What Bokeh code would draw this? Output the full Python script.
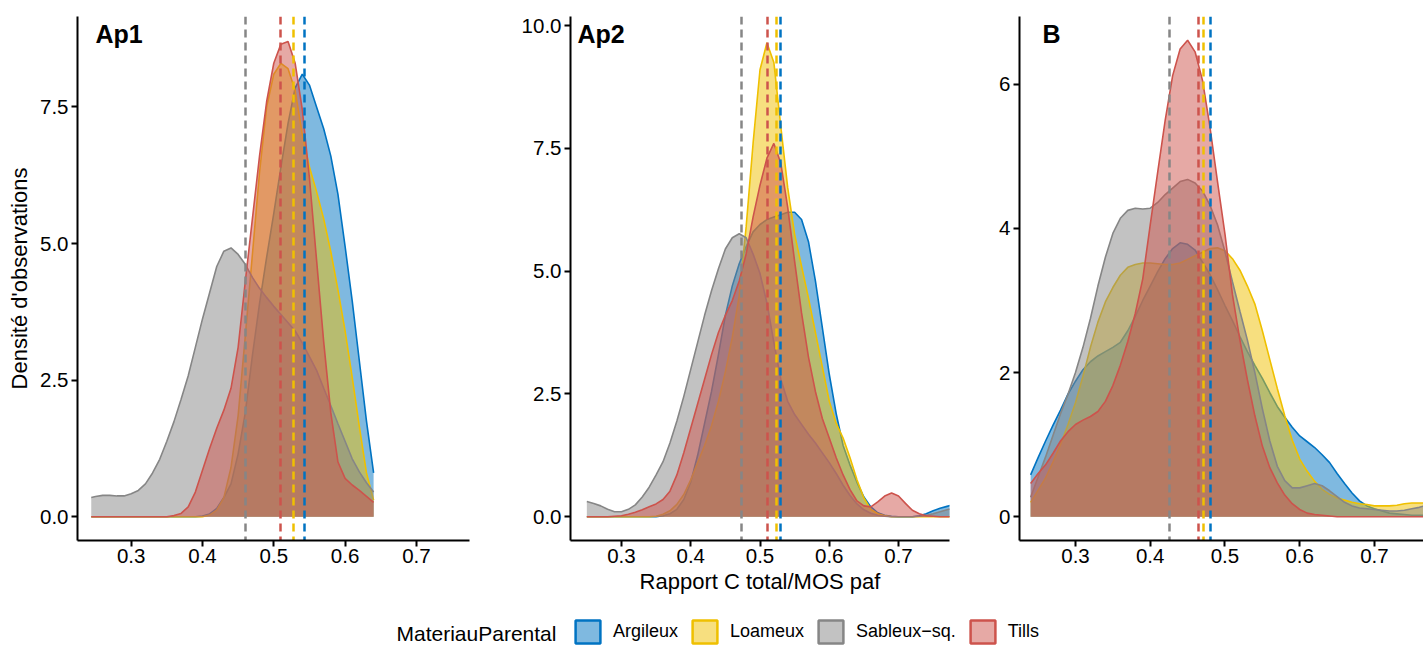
from bokeh.plotting import figure
from bokeh.layouts import row, column
from bokeh.models import (Range1d, FixedTicker, NumeralTickFormatter, Label,
                          Legend, LegendItem)
from bokeh.embed import file_html
from bokeh.resources import INLINE

# ---------------- data ----------------
GROUPS = ["Argileux", "Loameux", "Sableux\u2212sq.", "Tills"]
LEGEND_TITLE = "MateriauParental"
COLORS = ["#0073C2", "#EFC000", "#868686", "#CD534C"]
XTICKS = [0.3, 0.4, 0.5, 0.6, 0.7]

# Panel Ap1
x_ap1 = [0.244, 0.25, 0.26, 0.27, 0.28, 0.29, 0.30, 0.31, 0.32, 0.33, 0.34,
         0.35, 0.36, 0.37, 0.38, 0.39, 0.40, 0.41, 0.42, 0.43, 0.44, 0.45,
         0.46, 0.47, 0.48, 0.49, 0.50, 0.51, 0.52, 0.53, 0.54, 0.55, 0.56,
         0.57, 0.58, 0.59, 0.60, 0.61, 0.62, 0.63, 0.64]
ap1_argileux = [0, 0, 0, 0, 0, 0, 0, 0, 0, 0, 0, 0, 0, 0, 0, 0, 0.01,
                0.05, 0.15, 0.35, 0.6, 1.15, 1.9, 2.95, 3.9, 4.75, 5.55, 6.4,
                7.2, 7.85, 8.1, 7.9, 7.5, 7.1, 6.6, 5.9, 4.95, 3.95, 2.85,
                1.75, 0.8]
ap1_loameux = [0, 0, 0, 0, 0, 0, 0, 0, 0, 0, 0, 0, 0, 0, 0, 0, 0,
               0.03, 0.12, 0.35, 0.9, 1.85, 3.3, 4.8, 6.3, 7.5, 8.1, 8.3,
               8.2, 7.8, 7.0, 6.4, 5.95, 5.45, 4.85, 4.15, 3.4, 2.55, 1.65,
               0.8, 0.3]
ap1_sableux = [0.35, 0.37, 0.39, 0.39, 0.38, 0.38, 0.42, 0.48, 0.60, 0.80,
               1.05, 1.38, 1.74, 2.15, 2.58, 3.10, 3.62, 4.10, 4.58, 4.86,
               4.92, 4.80, 4.62, 4.38, 4.18, 4.01, 3.85, 3.70, 3.55, 3.40,
               3.18, 2.93, 2.68, 2.35, 2.03, 1.70, 1.38, 1.06, 0.82, 0.62,
               0.45]
ap1_tills = [0, 0, 0, 0, 0, 0, 0, 0, 0, 0, 0, 0,
             0.02, 0.06, 0.18, 0.45, 0.85, 1.25, 1.62, 1.95, 2.35, 3.1, 4.3,
             5.45, 6.6, 7.6, 8.3, 8.65, 8.70, 8.3, 7.45, 6.2, 4.7, 3.2, 1.9,
             1.0, 0.7, 0.58, 0.48, 0.37, 0.26]
ap1_means = [0.5425, 0.527, 0.46, 0.509]

# Panel Ap2
x_ap2 = [0.25, 0.26, 0.27, 0.28, 0.29, 0.30, 0.31, 0.32, 0.33, 0.34, 0.35,
         0.36, 0.37, 0.38, 0.39, 0.40, 0.41, 0.42, 0.43, 0.44, 0.45, 0.46,
         0.47, 0.48, 0.49, 0.50, 0.51, 0.52, 0.53, 0.54, 0.55, 0.56, 0.57,
         0.58, 0.59, 0.60, 0.61, 0.62, 0.63, 0.64, 0.65, 0.66, 0.67, 0.68,
         0.69, 0.70, 0.71, 0.72, 0.73, 0.74, 0.75, 0.76, 0.77, 0.775]
ap2_argileux = [0, 0, 0, 0, 0, 0, 0, 0, 0, 0, 0,
                0.02, 0.06, 0.15, 0.35, 0.7, 1.25, 1.9, 2.55, 3.3, 4.1, 4.7,
                5.15, 5.5, 5.8, 5.95, 6.05, 6.1, 6.15, 6.2, 6.2, 6.05, 5.6,
                4.8, 3.85, 2.9, 2.1, 1.45, 1.05, 0.7, 0.4, 0.2, 0.08, 0.03,
                0.01, 0, 0, 0, 0.02, 0.06, 0.12, 0.17, 0.21, 0.23]
ap2_loameux = [0, 0, 0, 0, 0, 0, 0, 0, 0, 0,
               0.01, 0.05, 0.12, 0.25, 0.45, 0.75, 1.1, 1.45, 1.85, 2.35,
               2.95, 3.65, 4.5, 5.9, 7.6, 9.1, 9.65, 9.25, 7.95, 6.7, 5.75,
               5.1, 4.45, 3.75, 3.05, 2.35, 1.9, 1.6, 1.2, 0.75, 0.38, 0.15,
               0.06, 0.02, 0, 0, 0, 0, 0, 0, 0, 0, 0, 0]
ap2_sableux = [0.31, 0.27, 0.22, 0.15, 0.10, 0.10, 0.15, 0.24, 0.40, 0.60,
               0.85, 1.12, 1.50, 1.95, 2.45, 3.0, 3.55, 4.1, 4.6, 5.05, 5.45,
               5.68, 5.76, 5.68, 5.35, 4.95, 4.35, 3.55, 2.8, 2.35, 2.08,
               1.88, 1.68, 1.5, 1.3, 1.1, 0.88, 0.64, 0.43, 0.26, 0.14, 0.07,
               0.03, 0.01, 0, 0, 0, 0, 0.01, 0.03, 0.06, 0.10, 0.14, 0.16]
ap2_tills = [0, 0, 0, 0, 0.01, 0.02, 0.05, 0.09, 0.14, 0.2, 0.26, 0.35,
             0.52, 0.85, 1.3, 1.8, 2.3, 2.8, 3.3, 3.75, 4.1, 4.4, 4.8, 5.35,
             6.1, 6.75, 7.3, 7.6, 7.2, 6.3, 5.2, 4.15, 3.25, 2.55, 2.0, 1.6,
             1.2, 0.85, 0.55, 0.32, 0.22, 0.2, 0.3, 0.42, 0.48, 0.42, 0.27,
             0.13, 0.06, 0.02, 0.01, 0, 0, 0]
ap2_means = [0.53, 0.524, 0.4736, 0.511]

# Panel B
x_b = [0.24, 0.25, 0.26, 0.27, 0.28, 0.29, 0.30, 0.31, 0.32, 0.33, 0.34,
       0.35, 0.36, 0.37, 0.38, 0.39, 0.40, 0.41, 0.42, 0.43, 0.44, 0.45,
       0.46, 0.47, 0.48, 0.49, 0.50, 0.51, 0.52, 0.53, 0.54, 0.55, 0.56,
       0.57, 0.58, 0.59, 0.60, 0.61, 0.62, 0.63, 0.64, 0.65, 0.66, 0.67,
       0.68, 0.69, 0.70, 0.71, 0.72, 0.73, 0.74, 0.75, 0.76, 0.77]
b_argileux = [0.58, 0.82, 1.05, 1.27, 1.48, 1.7, 1.88, 2.04, 2.15, 2.23,
              2.29, 2.35, 2.42, 2.58, 2.78, 3.0, 3.2, 3.4, 3.58, 3.72, 3.8,
              3.78, 3.7, 3.53, 3.36, 3.15, 2.93, 2.72, 2.5, 2.29, 2.1, 1.92,
              1.72, 1.53, 1.38, 1.24, 1.12, 1.04, 0.96, 0.86, 0.75, 0.6,
              0.46, 0.33, 0.22, 0.15, 0.11, 0.08, 0.05, 0.04, 0.03, 0.02,
              0.02, 0.02]
b_loameux = [0.2, 0.37, 0.54, 0.76, 1.0, 1.28, 1.58, 1.95, 2.35, 2.7, 2.98,
             3.18, 3.35, 3.46, 3.5, 3.52, 3.52, 3.51, 3.5, 3.5, 3.52, 3.57,
             3.62, 3.67, 3.72, 3.73, 3.69, 3.58, 3.42, 3.2, 2.95, 2.58, 2.18,
             1.78, 1.4, 1.06, 0.8, 0.63, 0.49, 0.38, 0.31, 0.26, 0.23, 0.2,
             0.18, 0.17, 0.15, 0.15, 0.15, 0.16, 0.18, 0.19, 0.19, 0.19]
b_sableux = [0.27, 0.55, 0.83, 1.13, 1.43, 1.7, 2.0, 2.35, 2.75, 3.2, 3.6,
             3.93, 4.14, 4.25, 4.28, 4.27, 4.28, 4.36, 4.47, 4.56, 4.65,
             4.68, 4.63, 4.52, 4.32, 4.05, 3.68, 3.26, 2.85, 2.45, 2.0, 1.5,
             1.05, 0.7, 0.5, 0.4, 0.4, 0.43, 0.46, 0.43, 0.36, 0.28, 0.2,
             0.15, 0.12, 0.11, 0.1, 0.09, 0.08, 0.08, 0.09, 0.11, 0.13, 0.16]
b_tills = [0.46, 0.6, 0.72, 0.88, 1.05, 1.18, 1.28, 1.34, 1.39, 1.46, 1.6,
           1.82, 2.1, 2.43, 2.82, 3.3, 4.05, 4.78, 5.5, 6.12, 6.49, 6.61,
           6.45, 6.05, 5.4, 4.65, 3.92, 3.08, 2.45, 1.9, 1.4, 0.98, 0.68,
           0.47, 0.3, 0.18, 0.1, 0.05, 0.03, 0.02, 0.01, 0, 0, 0, 0, 0, 0,
           0, 0, 0, 0, 0, 0, 0]
b_means = [0.4813, 0.4719, 0.4263, 0.4643]

FONT = "Liberation Sans"
FRAME_TOP = 16
FRAME_H = 524
FIG_H = 606
W_TOTAL = 1423
LEG_H = 40


def style_axis(ax):
    ax.axis_line_width = 2
    ax.axis_line_color = "black"
    ax.major_tick_line_width = 2
    ax.major_tick_line_color = "black"
    ax.major_tick_out = 6
    ax.major_tick_in = 0
    ax.minor_tick_line_color = None
    ax.major_label_text_font = FONT
    ax.major_label_text_font_size = "20.5px"
    ax.major_label_text_color = "black"
    ax.axis_label_text_font = FONT
    ax.axis_label_text_font_size = "22px"
    ax.axis_label_text_font_style = "normal"
    ax.axis_label_text_color = "black"


def make_panel(xv, series, means, xr, yr, yticks, yfmt, width, left, right,
               tag, tag_dx, ylabel=None, xlabel=None):
    p = figure(width=width, height=FIG_H, x_range=Range1d(*xr),
               y_range=Range1d(*yr), output_backend="svg",
               toolbar_location=None, min_border_left=left,
               min_border_right=right, min_border_top=FRAME_TOP,
               min_border_bottom=FIG_H - FRAME_TOP - FRAME_H)
    p.grid.visible = False
    p.outline_line_color = None
    for ys, c in zip(series, COLORS):
        p.varea(x=xv, y1=0, y2=ys, fill_color=c, fill_alpha=0.5)
        p.line(x=xv, y=ys, line_color=c, line_width=1.6)
    for m, c in zip(means, COLORS):
        p.vspan(x=[m], line_color=c, line_width=2.5, line_dash="8 5")
    p.xaxis.ticker = FixedTicker(ticks=XTICKS)
    p.xaxis.formatter = NumeralTickFormatter(format="0.0")
    p.yaxis.ticker = FixedTicker(ticks=yticks)
    p.yaxis.formatter = NumeralTickFormatter(format=yfmt)
    for ax in list(p.xaxis) + list(p.yaxis):
        style_axis(ax)
    p.yaxis.major_label_standoff = 3
    p.xaxis.major_label_standoff = 2
    if ylabel:
        p.yaxis.axis_label = ylabel
        p.yaxis.axis_label_standoff = 5
    if xlabel:
        p.xaxis.axis_label = xlabel
        p.xaxis.axis_label_standoff = 3
    frame_w = width - left - right
    tx = xr[0] + tag_dx / frame_w * (xr[1] - xr[0])
    ty = yr[1] - 17.0 / FRAME_H * (yr[1] - yr[0])
    p.add_layout(Label(x=tx, y=ty, text=tag, text_font=FONT,
                       text_font_style="bold", text_font_size="25px",
                       text_baseline="alphabetic", text_color="black"))
    return p


p1 = make_panel(x_ap1, [ap1_argileux, ap1_loameux, ap1_sableux, ap1_tills],
                ap1_means, (0.2247, 0.7745), (-0.436, 9.156),
                [0, 2.5, 5, 7.5], "0.0", 500, 77, 31, "Ap1", 18,
                ylabel="Densit\u00e9 d'observations")
p2 = make_panel(x_ap2, [ap2_argileux, ap2_loameux, ap2_sableux, ap2_tills],
                ap2_means, (0.2264, 0.7736), (-0.485, 10.185),
                [0, 2.5, 5, 7.5, 10], "0.0", 469, 70, 20, "Ap2", 7,
                xlabel="Rapport C total/MOS paf")
p3 = make_panel(x_b, [b_argileux, b_loameux, b_sableux, b_tills],
                b_means, (0.2251, 0.7656), (-0.33, 6.94),
                [0, 2, 4, 6], "0", 454, 50, 0, "B", 23)

# ---------------- legend ----------------
LX = (10.0, 11.0)
LY = (-20.0, -19.0)
leg = figure(width=W_TOTAL, height=LEG_H, x_range=Range1d(*LX),
             y_range=Range1d(*LY), output_backend="svg",
             toolbar_location=None, x_axis_location=None,
             y_axis_location=None, min_border=0)
leg.grid.visible = False
leg.outline_line_color = None
items = []
all_series = [ap1_argileux, ap1_loameux, ap1_sableux, ap1_tills]
for g, ys, c in zip(GROUPS, all_series, COLORS):
    r = leg.patch(x=x_ap1 + x_ap1[::-1], y=ys + [0] * len(ys),
                  fill_color=c, fill_alpha=0.5, line_color=c, line_width=2.5)
    items.append(LegendItem(label=g, renderers=[r]))

legend = Legend(items=items, orientation="horizontal", location=(572, 0),
                glyph_width=31, glyph_height=29,
                label_standoff=10, spacing=11, padding=0, margin=0,
                border_line_color=None, background_fill_alpha=0,
                label_text_font=FONT, label_text_font_size="18px",
                label_text_color="black")
leg.add_layout(legend)
# legend title, placed left of the keys
title_y = LY[0] + (LY[1] - LY[0]) * (646 - 632.5) / LEG_H
title_x = LX[0] + (LX[1] - LX[0]) * 396.0 / W_TOTAL
leg.add_layout(Label(x=title_x, y=title_y, text=LEGEND_TITLE, text_font=FONT,
                     text_font_size="21px", text_color="black",
                     text_baseline="middle", text_align="left"))

layout = column(row(p1, p2, p3), leg)
open("out.html", "w").write(file_html(layout, INLINE))
